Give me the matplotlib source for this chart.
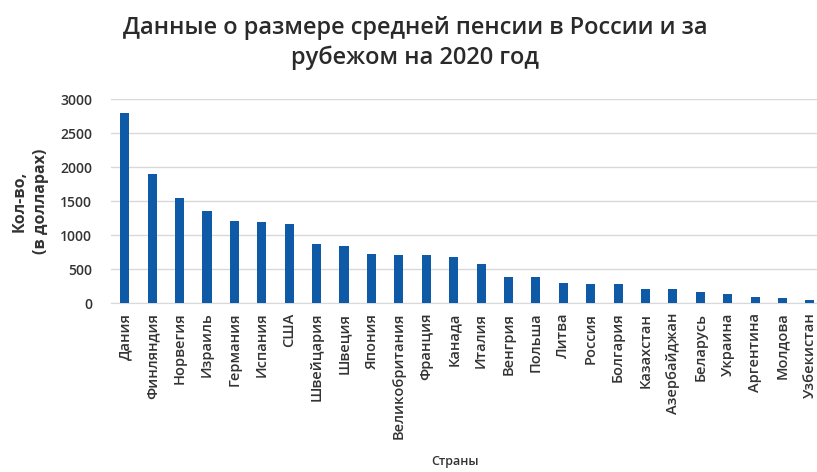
import matplotlib
matplotlib.use("Agg")
import matplotlib.pyplot as plt

countries = ["Дания", "Финляндия", "Норвегия", "Израиль", "Германия", "Испания",
             "США", "Швейцария", "Швеция", "Япония", "Великобритания", "Франция",
             "Канада", "Италия", "Венгрия", "Польша", "Литва", "Россия", "Болгария",
             "Казахстан", "Азербайджан", "Беларусь", "Украина", "Аргентина",
             "Молдова", "Узбекистан"]
pension_usd = [2800, 1900, 1540, 1350, 1200, 1185, 1160, 870, 835, 720, 700,
               700, 670, 580, 390, 380, 290, 280, 280, 200, 200, 160, 140, 90,
               70, 50]
y_ticks = [0, 500, 1000, 1500, 2000, 2500, 3000]

plt.rcParams['font.family'] = ['Open Sans', 'DejaVu Sans']

fig = plt.figure(figsize=(8.17, 4.72), dpi=100)
ax = fig.add_axes([0.136, 0.358, 0.872, 0.432])

x = range(len(countries))
ax.bar(x, pension_usd, width=0.33, color="#0f5aa6", zorder=3)

ax.set_xlim(-0.5, len(countries) - 0.5)
ax.set_ylim(0, 3000)
ax.set_yticks(y_ticks)
ax.set_yticklabels([str(t) for t in y_ticks], fontsize=10, color="#333333",
                   fontweight="semibold")
ax.set_xticks(list(x))
ax.set_xticklabels(countries, rotation=90, fontsize=10.5, color="#333333",
                   fontweight="semibold")
ax.tick_params(axis="x", length=0, pad=7)
ax.tick_params(axis="y", length=0, pad=13.5)

ax.grid(axis="y", color="#d9d9d9", linewidth=1, zorder=0)
for s in ["top", "right", "left"]:
    ax.spines[s].set_visible(False)
ax.spines["bottom"].set_color("#d9d9d9")

fig.text(0.508, 0.908, "Данные о размере средней пенсии в России и за\nрубежом на 2020 год",
         ha="center", va="center", fontsize=17, fontweight="semibold",
         color="#2a2a2a", linespacing=1.3)
fig.text(0.037, 0.573, "Кол-во,\n(в долларах)", rotation=90, ha="center",
         va="center", fontsize=11.5, fontweight="bold", color="#333333",
         linespacing=1.45)
fig.text(0.557, 0.022, "Страны", ha="center", va="center", fontsize=9,
         fontweight="semibold", color="#333333")

fig.savefig("out.png", dpi=100)
